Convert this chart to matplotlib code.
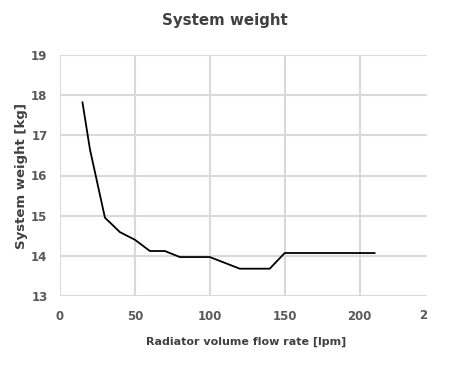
import matplotlib.pyplot as plt

# данные с графика
flow = [15, 20, 30, 40, 50, 60, 70, 80, 100, 120, 140, 150, 210]
weight = [17.82, 16.65, 14.95, 14.59, 14.4, 14.12, 14.12, 13.97, 13.97, 13.68, 13.68, 14.07, 14.07]
x_ticks = [0, 50, 100, 150, 200]
y_ticks = [13, 14, 15, 16, 17, 18, 19]

fig = plt.figure(figsize=(4.49, 3.65), dpi=100)
ax = fig.add_axes([60 / 449, (365 - 296) / 365, 367 / 449, 241 / 365])

ax.plot(flow, weight, color='black', linewidth=1.3)

ax.set_xlim(0, 245)
ax.set_ylim(13, 19)
ax.set_xticks(x_ticks)
ax.set_yticks(y_ticks)
ax.grid(True, color='#d9d9d9', linewidth=1.5)
ax.set_axisbelow(True)
for s in ax.spines.values():
    s.set_visible(False)
ax.tick_params(length=0, labelsize=8.5, labelcolor='#595959')
ax.tick_params(axis='x', pad=10)
ax.tick_params(axis='y', pad=9)
for lbl in ax.get_xticklabels() + ax.get_yticklabels():
    lbl.set_fontweight('bold')

# обрезанная подпись 250 справа
ax.text(1.0, -0.08, '2', transform=ax.transAxes, ha='right', va='center',
        fontsize=8.5, color='#595959', fontweight='bold')

fig.text(246 / 449, 1 - 342 / 365, 'Radiator volume flow rate [lpm]', ha='center', va='center',
         fontsize=8, fontweight='bold', color='#404040')
fig.text(22 / 449, 1 - 176 / 365, 'System weight [kg]', ha='center', va='center',
         rotation=90, fontsize=9.5, fontweight='bold', color='#404040')
fig.text(225 / 449, 1 - 20 / 365, 'System weight', ha='center', va='center',
         fontsize=10.8, fontweight='bold', color='#404040')

fig.savefig('out.png', dpi=100)
